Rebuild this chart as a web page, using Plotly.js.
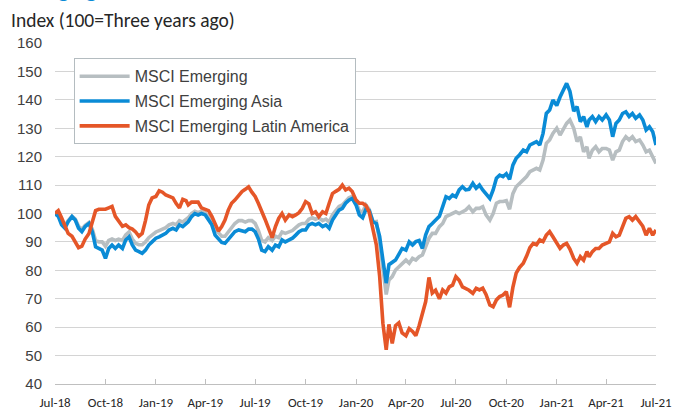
<!DOCTYPE html>
<html>
<head>
<meta charset="utf-8">
<script src="https://cdn.plot.ly/plotly-3.0.1.min.js"></script>
<style>html,body{margin:0;padding:0;background:#fff;}#chart{width:686px;height:415px;}</style>
</head>
<body>
<div id="chart"></div>
<script>
const dates = [
"2018-07-01","2018-07-07","2018-07-13","2018-07-19","2018-07-25",
"2018-08-01","2018-08-07","2018-08-13","2018-08-19","2018-08-25",
"2018-09-01","2018-09-07","2018-09-13","2018-09-19","2018-09-25",
"2018-10-01","2018-10-07","2018-10-13","2018-10-19","2018-10-25",
"2018-11-01","2018-11-07","2018-11-13","2018-11-19","2018-11-25",
"2018-12-01","2018-12-07","2018-12-13","2018-12-19","2018-12-25",
"2019-01-01","2019-01-07","2019-01-13","2019-01-19","2019-01-25",
"2019-02-01","2019-02-07","2019-02-13","2019-02-19","2019-02-25",
"2019-03-01","2019-03-07","2019-03-13","2019-03-19","2019-03-25",
"2019-04-01","2019-04-07","2019-04-13","2019-04-19","2019-04-25",
"2019-05-01","2019-05-07","2019-05-13","2019-05-19","2019-05-25",
"2019-06-01","2019-06-07","2019-06-13","2019-06-19","2019-06-25",
"2019-07-01","2019-07-07","2019-07-13","2019-07-19","2019-07-25",
"2019-08-01","2019-08-07","2019-08-13","2019-08-19","2019-08-25",
"2019-09-01","2019-09-07","2019-09-13","2019-09-19","2019-09-25",
"2019-10-01","2019-10-07","2019-10-13","2019-10-19","2019-10-25",
"2019-11-01","2019-11-07","2019-11-13","2019-11-19","2019-11-25",
"2019-12-01","2019-12-07","2019-12-13","2019-12-19","2019-12-25",
"2020-01-01","2020-01-07","2020-01-13","2020-01-19","2020-01-25",
"2020-02-01","2020-02-07","2020-02-13","2020-02-19","2020-02-25",
"2020-03-01","2020-03-07","2020-03-13","2020-03-19","2020-03-25",
"2020-04-01","2020-04-07","2020-04-13","2020-04-19","2020-04-25",
"2020-05-01","2020-05-07","2020-05-13","2020-05-19","2020-05-25",
"2020-06-01","2020-06-07","2020-06-13","2020-06-19","2020-06-25",
"2020-07-01","2020-07-07","2020-07-13","2020-07-19","2020-07-25",
"2020-08-01","2020-08-07","2020-08-13","2020-08-19","2020-08-25",
"2020-09-01","2020-09-07","2020-09-13","2020-09-19","2020-09-25",
"2020-10-01","2020-10-07","2020-10-13","2020-10-19","2020-10-25",
"2020-11-01","2020-11-07","2020-11-13","2020-11-19","2020-11-25",
"2020-12-01","2020-12-07","2020-12-13","2020-12-19","2020-12-25",
"2021-01-01","2021-01-07","2021-01-13","2021-01-19","2021-01-25",
"2021-02-01","2021-02-07","2021-02-13","2021-02-19","2021-02-25",
"2021-03-01","2021-03-07","2021-03-13","2021-03-19","2021-03-25",
"2021-04-01","2021-04-07","2021-04-13","2021-04-19","2021-04-25",
"2021-05-01","2021-05-07","2021-05-13","2021-05-19","2021-05-25",
"2021-06-01","2021-06-07","2021-06-13","2021-06-19","2021-06-25",
"2021-07-01"
];

const msciEmerging = [
100,99.5,97,95.8,97.5, 99,98,95.5,94.5,95.8, 96.8,94.5,90.5,90,90, 88.5,90.5,91,90.5,91,
90.5,92.5,93.5,91,89.5, 89,89,90,91.5,92.5, 93.5,94,94.5,95,96, 96.5,96,97.5,97,98,
98.5,100,100.8,100.3,100.8, 100.3,99,97.5,94.5,93, 92,92,93.5,95,96.5, 97.5,97.5,97,97.5,97.5,
96.5,94,90.5,90,91.5, 90.5,92,91.5,93.5,93, 93.5,94,95,96,96.5, 96.5,98,98.5,98,98.5,
97.5,98,97,99.5,101, 102.5,103,104.5,105.5,106, 104,101,100.5,103,101.5, 97,97.2,90,80.1,71.5,
76.6,77.8,80.1,81.3,82.5, 83.6,82.5,84.2,83.6,84.8, 85.4,88,91.3,93,93, 95.4,96.5,98.9,99.5,100,
100.6,100,100.6,101.2,102.4, 100.6,101.8,101.8,102.4,99.5, 97.7,100,103.6,104.2,104.2, 104.5,101.5,107,109.4,110.6,
111.8,113,114.7,115.3,115.9, 115.3,118.8,124.7,125.9,128.2, 130,127.6,130,131.7,132.9, 130,125.3,127,121.7,123.5,
119.4,122.3,123.5,121.7,122.9, 122.9,122.3,118.8,121.7,122.3, 125.3,127,125.9,127,125.3, 125.9,124.1,121.7,122.3,120,
117.6
];

const msciEmergingAsia = [
100,99,96,94.8,97.1, 98.9,97.7,94.8,93.6,95.4, 96.5,93.6,88.3,87.7,87.1, 84.2,87.7,88.9,87.7,88.9,
87.7,90.7,91.8,88.9,87.1, 86.6,86,87.1,88.9,90, 91.3,91.8,92.4,93,94.2, 94.8,94.2,96,95.4,96.5,
97.1,98.9,100,99.5,100, 99.5,98,96,92.4,91, 89.8,89.5,91,92.5,93.6, 94.2,94,93.6,94.5,94.5,
93.6,91,87.1,86.6,88.3, 87.1,88.9,88.3,90.7,90, 90.7,91.3,92.4,93.6,94.2, 94.2,96,96.5,96,96.5,
95.4,96,94.8,97.7,99.5, 101.2,101.8,103.6,104.7,105.3, 103,99.5,98.5,101.5,101, 97,96.5,92,83.6,75.5,
82,83,83.6,85.6,87.7, 87.1,90,88.9,90.1,90.5, 87.7,92.5,95.4,96.5,97.7, 99,102.4,105.9,105.3,106.5,
105.9,108.3,109.4,108.3,108.5, 110.6,108.9,110,108.3,107.1, 105.3,108.3,112.4,113.5,113, 114,112,117,119.4,120.6,
122.3,121.7,124.1,124.7,125.3, 124.1,128.2,135.2,136.4,139.9, 138,141,143.4,145.8,143, 136,137.6,132.3,134.1,130.5,
132.9,134.1,132.3,134.1,132.9, 134.7,132.9,127,131.7,132.9, 135.2,135.8,134.1,135.2,133.5, 134.7,132.9,129.4,130.5,128.8,
124.1
];

const msciEmergingLatinAmerica = [
100,101,98.5,95.5,93, 92,90,88,88.5,91, 93,97,101,101.5,101.5, 101.5,102,102.5,99,97.5,
95.5,96,95,94.5,93.5, 92,93,97.5,103,105.5, 106,108,107.5,106.5,106, 105.5,103.5,102,105,104.5,
103,104,104,104,102, 101.5,101,99,96,93.8, 95.4,97.7,101.2,103.6,104.7, 106.5,107.7,108.5,109.4,107.5,
106,103.5,101,98,95, 91.5,95.4,98.3,100,97.7, 99.5,98.9,99.5,100.3,101.8, 104.2,103.4,100,100.6,98.9,
100.6,100,103.6,107,107.8, 108.5,110,108.3,108.9,107.7, 104.7,103.6,103.6,102.8,100.5, 94,89,78,61.3,52,
61,54.3,60.5,61.5,58, 57,59.5,58.5,57,60.5, 64.9,69,77.5,72,73, 70,73.1,72,74.2,74.8,
77.8,76.5,74.2,73.7,73, 71.9,73.7,73.1,73.7,71.5, 67.8,67.2,69.6,70.8,71.3, 72.5,67,74,79,81,
82.5,85,88,89.5,89, 90.7,90.1,92.4,93.6,91.8, 89.5,87.7,88.9,89.5,87.5, 84.2,82.5,84.8,83.6,86.6,
84.8,86.6,87.7,87.7,88.9, 89.5,90,93,91.8,92.4, 95,98.3,98.9,97.7,98.9, 97.1,95.5,92.4,94.8,92.4,
94.2
];

const seriesNames = ["MSCI Emerging", "MSCI Emerging Asia", "MSCI Emerging Latin America"];
const seriesColors = ["rgb(183,190,193)", "rgb(10,139,214)", "rgb(229,86,40)"];
const tickDates = ["2018-07-01","2018-10-01","2019-01-01","2019-04-01","2019-07-01","2019-10-01","2020-01-01","2020-04-01","2020-07-01","2020-10-01","2021-01-01","2021-04-01","2021-07-01"];
const tickLabels = ["Jul-18","Oct-18","Jan-19","Apr-19","Jul-19","Oct-19","Jan-20","Apr-20","Jul-20","Oct-20","Jan-21","Apr-21","Jul-21"];
const yTicks = [40,50,60,70,80,90,100,110,120,130,140,150,160];

const allSeries = [msciEmerging, msciEmergingAsia, msciEmergingLatinAmerica];
const traces = allSeries.map((vals, i) => ({
  x: dates, y: vals, type: "scatter", mode: "lines", name: seriesNames[i],
  legendgroup: "g" + i,
  line: {color: seriesColors[i], width: 3.6, shape: "linear"}
}));

const layout = {
  width: 686, height: 415,
  margin: {l: 55, r: 30, t: 43, b: 31},
  paper_bgcolor: "#fff", plot_bgcolor: "#fff",
  showlegend: true,
  legend: {
    x: 0.031, y: 0.955, xanchor: "left", yanchor: "top",
    bgcolor: "#fff", bordercolor: "#b4bcc0", borderwidth: 1,
    font: {family: "Liberation Sans, Arial, sans-serif", size: 16, color: "#404040"},
    itemwidth: 50, tracegroupgap: 1
  },
  xaxis: {
    type: "date", range: ["2018-07-01", "2021-07-01"],
    tickmode: "array", tickvals: tickDates, ticktext: tickLabels,
    showgrid: false, zeroline: false,
    showline: true, linecolor: "#bfbfbf", linewidth: 1,
    ticks: "inside", ticklen: 5, tickcolor: "#bfbfbf",
    ticklabelstandoff: 6,
    tickfont: {family: "Carlito, Lato, sans-serif", size: 13, color: "#262626"}
  },
  yaxis: {
    range: [40, 160], tickmode: "array", tickvals: yTicks,
    showgrid: true, gridcolor: "#d4d4d4", gridwidth: 1,
    zeroline: false, showline: false, ticks: "",
    ticklabelstandoff: 12,
    tickfont: {family: "Liberation Sans, Arial, sans-serif", size: 15, color: "#404040"}
  },
  annotations: [
    {text: "Index (100=Three years ago)", xref: "paper", yref: "paper",
     x: -0.0765, y: 1.0, xanchor: "left", yanchor: "bottom", yshift: 9, showarrow: false,
     font: {family: "Carlito, Lato, sans-serif", size: 19.5, color: "#262626"}},
    {text: "<b>Emerging markets</b>", xref: "paper", yref: "paper",
     x: -0.0765, y: 1.0, xanchor: "left", yanchor: "bottom", yshift: 38, showarrow: false,
     font: {family: "Carlito, Lato, sans-serif", size: 22, color: "rgb(10,139,214)"}}
  ]
};

Plotly.newPlot("chart", traces, layout, {displayModeBar: false, staticPlot: true});
</script>
</body>
</html>
